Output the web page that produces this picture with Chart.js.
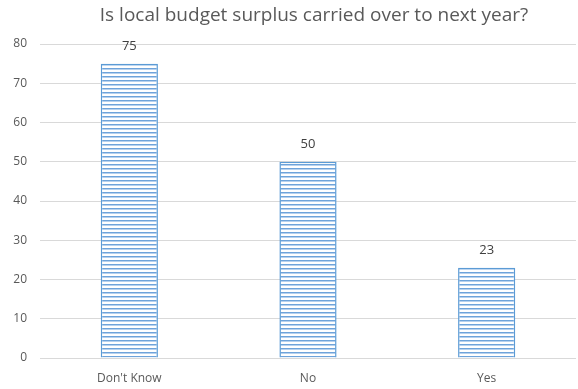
<!DOCTYPE html>
<html>
<head>
<meta charset="utf-8">
<script src="https://cdn.jsdelivr.net/npm/chart.js@4/dist/chart.umd.min.js"></script>
<style>
html,body{margin:0;padding:0;background:#fff;}
#wrap{width:578px;height:389px;}
</style>
</head>
<body>
<div id="wrap"><canvas id="c" width="578" height="389"></canvas></div>
<script>
const titleText = "Is local budget surplus carried over to next year?";
const categories = ["Don't Know", "No", "Yes"];
const values = [75, 50, 23];
const yTicks = [0, 10, 20, 30, 40, 50, 60, 70, 80];

function makePattern() {
  const p = document.createElement('canvas');
  p.width = 4; p.height = 4;
  const g = p.getContext('2d');
  g.fillStyle = '#ffffff';
  g.fillRect(0, 0, 4, 4);
  g.fillStyle = '#6ea3da';
  g.fillRect(0, 0, 4, 1);
  g.fillStyle = '#b6d1ee';
  g.fillRect(0, 1, 4, 1);
  return document.getElementById('c').getContext('2d').createPattern(p, 'repeat');
}

const titlePlugin = {
  id: 'centerTitle',
  afterDraw(chart) {
    const ctx = chart.ctx, a = chart.chartArea;
    ctx.save();
    ctx.font = '19px "Open Sans"';
    ctx.fillStyle = '#595959';
    ctx.textAlign = 'center';
    ctx.textBaseline = 'middle';
    ctx.fillText(titleText, (a.left + a.right) / 2 + 6, 16);
    ctx.restore();
  }
};

const labelPlugin = {
  id: 'valueLabels',
  afterDatasetsDraw(chart) {
    const ctx = chart.ctx;
    const meta = chart.getDatasetMeta(0);
    ctx.save();
    ctx.font = '13px "Open Sans"';
    ctx.fillStyle = '#404040';
    ctx.textAlign = 'center';
    ctx.textBaseline = 'middle';
    meta.data.forEach((bar, i) => {
      ctx.fillText(String(values[i]), bar.x, bar.y - 17);
    });
    ctx.restore();
  }
};

new Chart(document.getElementById('c'), {
  type: 'bar',
  data: {
    labels: categories,
    datasets: [{
      data: values,
      backgroundColor: makePattern(),
      borderColor: '#5b9bd5',
      borderWidth: 1.5,
      barPercentage: 0.32,
      categoryPercentage: 1.0
    }]
  },
  options: {
    responsive: false,
    animation: false,
    devicePixelRatio: 1,
    layout: { padding: { top: 44, right: 2, left: 0, bottom: 2 } },
    plugins: {
      legend: { display: false },
      title: { display: false },
      tooltip: { enabled: false }
    },
    scales: {
      x: {
        afterFit(axis) { axis.height = 29; },
        grid: { display: false, drawTicks: false },
        border: { display: false },
        ticks: { color: '#595959', font: { family: 'Open Sans', size: 12 }, padding: 13 }
      },
      y: {
        min: 0, max: 80,
        afterBuildTicks(axis) { axis.ticks = yTicks.map(v => ({ value: v })); },
        afterFit(axis) { axis.width = 40; },
        grid: { color: '#d9d9d9', lineWidth: 1, drawTicks: false },
        border: { display: false },
        ticks: { color: '#595959', font: { family: 'Open Sans', size: 12 }, padding: 13 }
      }
    }
  },
  plugins: [titlePlugin, labelPlugin]
});
</script>
</body>
</html>
